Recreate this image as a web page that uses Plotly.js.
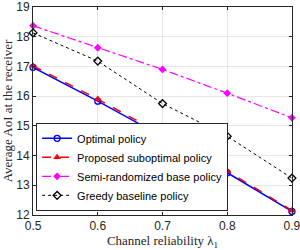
<!DOCTYPE html>
<html><head><meta charset="utf-8">
<script src="https://cdn.plot.ly/plotly-3.0.1.min.js"></script>
<style>html,body{margin:0;padding:0;background:#fff}#chart{width:300px;height:250px}</style>
</head><body><div id="chart"></div>
<script>
const lambda = [0.5, 0.6, 0.7, 0.8, 0.9];
const optimal = [16.97, 15.83, 14.64, 13.42, 12.12];
const proposed = [17.02, 15.9, 14.7, 13.48, 12.15];
const semiRandom = [18.37, 17.63, 16.9, 16.1, 15.27];
const greedy = [18.13, 17.18, 15.75, 14.65, 13.24];
const names = ['Optimal policy', 'Proposed suboptimal policy', 'Semi-randomized base policy', 'Greedy baseline policy'];
const xTicks = [0.5, 0.6, 0.7, 0.8, 0.9];
const xTickText = ['0.5', '0.6', '0.7', '0.8', '0.9'];
const yTicks = [12, 13, 14, 15, 16, 17, 18, 19];

const traces = [
  {x: lambda, y: optimal, name: names[0], mode: 'lines+markers', cliponaxis: false,
   line: {color: '#0000ff', width: 1.5}, marker: {symbol: 'circle-open', size: 6, color: '#0000ff', line: {width: 1.3}}},
  {x: lambda, y: proposed, name: names[1], mode: 'lines+markers', cliponaxis: false,
   line: {color: '#ff0000', width: 1.5, dash: 'dash'}, marker: {symbol: 'triangle-up', size: 7, color: '#ff0000'}},
  {x: lambda, y: semiRandom, name: names[2], mode: 'lines+markers', cliponaxis: false,
   line: {color: '#ff00ff', width: 1.2, dash: 'dashdot'}, marker: {symbol: 'diamond', size: 6, color: '#ff00ff'}},
  {x: lambda, y: greedy, name: names[3], mode: 'lines+markers', cliponaxis: false,
   line: {color: '#000000', width: 1, dash: 'dot'}, marker: {symbol: 'diamond-open', size: 6, color: '#000000', line: {width: 1.3}}}
];

const layout = {
  width: 300, height: 250,
  margin: {l: 33, r: 8, t: 7, b: 35},
  paper_bgcolor: '#fff', plot_bgcolor: '#fff',
  showlegend: true,
  font: {family: 'Liberation Sans, Arial, sans-serif', size: 12, color: '#262626'},
  xaxis: {
    range: [0.4999, 0.9001], tickvals: xTicks, ticktext: xTickText, ticklabeloverflow: 'allow',
    showgrid: true, gridcolor: '#e6e6e6', zeroline: false,
    showline: true, linecolor: '#262626', linewidth: 1, mirror: 'ticks',
    ticks: 'inside', ticklen: 3, tickcolor: '#262626',
    tickfont: {size: 12, color: '#262626'},
    title: {text: 'Channel reliability λ<sub>1</sub>', font: {family: 'Liberation Serif, DejaVu Serif, serif', size: 13, color: '#262626'}, standoff: 3}
  },
  yaxis: {
    range: [11.998, 19.002], tickvals: yTicks, ticklabeloverflow: 'allow',
    showgrid: true, gridcolor: '#e6e6e6', zeroline: false,
    showline: true, linecolor: '#262626', linewidth: 1, mirror: 'ticks',
    ticks: 'inside', ticklen: 3, tickcolor: '#262626',
    tickfont: {size: 12, color: '#262626'},
    title: {text: 'Average AoI at the receiver', font: {family: 'Liberation Serif, DejaVu Serif, serif', size: 13, color: '#262626'}, standoff: 5}
  },
  legend: {
    x: 0.012, y: 0.02, xanchor: 'left', yanchor: 'bottom',
    bgcolor: '#ffffff', bordercolor: '#262626', borderwidth: 1,
    font: {size: 11, color: '#000'}, tracegroupgap: 0, itemwidth: 30
  }
};

Plotly.newPlot('chart', traces, layout, {displayModeBar: false, staticPlot: true});
</script></body></html>
